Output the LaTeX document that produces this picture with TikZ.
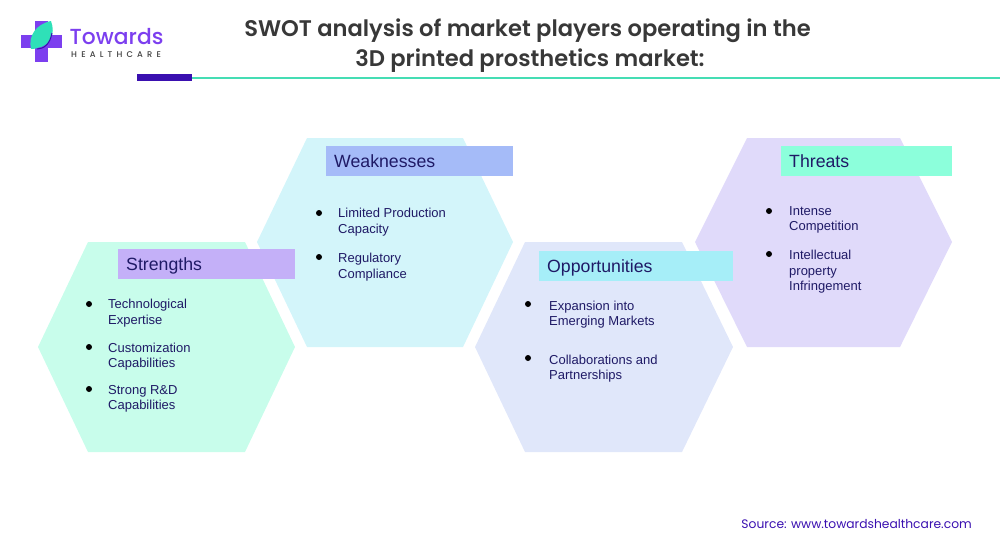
\documentclass[tikz,border=0pt]{standalone}
\usepackage{fontspec}
\usepackage{xcolor}
\setmainfont{Liberation Sans}
\newfontfamily\titlefont{Poppins}
\newfontfamily\titlesemi{Poppins SemiBold}
\newfontfamily\logofont{Poppins Medium}
\definecolor{brandpurple}{HTML}{7C3FEF}
\definecolor{brandteal}{HTML}{2FE0B8}
\definecolor{barnavy}{HTML}{3A10B0}
\definecolor{rulegreen}{HTML}{45DDB4}
\definecolor{inktext}{HTML}{1F1A66}
\definecolor{hexS}{HTML}{C8FDEB}
\definecolor{hexW}{HTML}{D3F5FA}
\definecolor{hexO}{HTML}{E0E7FA}
\definecolor{hexT}{HTML}{E0DAFA}
\definecolor{headS}{HTML}{C4B0F8}
\definecolor{headW}{HTML}{A5BBF8}
\definecolor{headO}{HTML}{A6EEF8}
\definecolor{headT}{HTML}{8CFFDB}
\tikzset{
  headbox/.style={anchor=north west, inner sep=0pt, text=inktext, font=\fontsize{17.7}{18}\selectfont, align=left},
  itemtext/.style={anchor=north west, inner sep=0pt, text=inktext, font=\fontsize{13}{15.6}\selectfont, align=left},
  bulletdot/.style={circle, fill=black, inner sep=0pt, minimum size=6pt},
}
\begin{document}
\begin{tikzpicture}[x=1pt,y=-1pt]
  \useasboundingbox (0,0) rectangle (1000,542);
  % hexagons
  \fill[hexS] (38,347) -- (88,242) -- (245,242) -- (295,347) -- (245,452) -- (88,452) -- cycle;
  \fill[hexW] (257,242) -- (307,138) -- (463,138) -- (513,242) -- (463,347) -- (307,347) -- cycle;
  \fill[hexO] (475,347) -- (525,242) -- (682,242) -- (733,347) -- (682,452) -- (525,452) -- cycle;
  \fill[hexT] (695,242) -- (747,138) -- (900,138) -- (952,242) -- (900,347) -- (747,347) -- cycle;
  % heading bars
  \fill[headS] (118,249) rectangle (295,279);
  \fill[headW] (326,146) rectangle (513,176);
  \fill[headO] (539,251) rectangle (733,281);
  \fill[headT] (781,146) rectangle (952,176);
  \node[headbox] (strengths) at (126,257) {Strengths};
  \node[headbox] (weaknesses) at (334,154) {Weaknesses};
  \node[headbox] (opportunities) at (547,259) {Opportunities};
  \node[headbox] (threats) at (789,154) {Threats};
  % items
  \node[bulletdot] (s1) at (89,304) {};
  \node[itemtext] (s1t) at (108,299) {Technological\\Expertise};
  \node[bulletdot] (s2) at (89,347) {};
  \node[itemtext] (s2t) at (108,342.5) {Customization\\Capabilities};
  \node[bulletdot] (s3) at (89,389) {};
  \node[itemtext] (s3t) at (108,385) {Strong R\&D\\Capabilities};
  \node[bulletdot] (w1) at (319,213) {};
  \node[itemtext] (w1t) at (338,208) {Limited Production\\Capacity};
  \node[bulletdot] (w2) at (319,257) {};
  \node[itemtext] (w2t) at (338,253) {Regulatory\\Compliance};
  \node[bulletdot] (o1) at (528,304) {};
  \node[itemtext] (o1t) at (549,300.5) {Expansion into\\Emerging Markets};
  \node[bulletdot] (o2) at (528,358) {};
  \node[itemtext] (o2t) at (549,354.5) {Collaborations and\\Partnerships};
  \node[bulletdot] (t1) at (769,211) {};
  \node[itemtext] (t1t) at (789,206) {Intense\\Competition};
  \node[bulletdot] (t2) at (769,254) {};
  \node[itemtext] (t2t) at (789,250) {Intellectual\\property\\Infringement};
  % title and rule
  \node[anchor=north, inner sep=0pt, align=center, text=black!78, font=\titlesemi\fontsize{22.6}{30}\selectfont] (title) at (527.5,18.5) {SWOT analysis of market players operating in the\\\hspace*{5pt}3D printed prosthetics market:};
  \fill[rulegreen] (192,76.5) rectangle (1000,79);
  \fill[barnavy] (137,74) rectangle (192,81);
  % logo
  \fill[brandpurple] (35,21) rectangle (48,62);
  \fill[brandpurple] (21,34.5) rectangle (62,48);
  \fill[brandteal] (31,49) .. controls (28,36) and (36,24) .. (51,21) .. controls (56,34) and (50,46) .. (37,48) .. controls (35,49) and (33,49) .. (31,49) -- cycle;
  \draw[barnavy, line width=1pt] (37,49) .. controls (44,49) and (50,44) .. (52,33);
  \node[anchor=west, inner sep=0pt, text=brandpurple, font=\logofont\fontsize{21.8}{22}\selectfont] (towards) at (69.5,37) {Towards};
  \node[anchor=west, inner sep=0pt, text=black!75, font=\logofont\fontsize{8.3}{8.5}\selectfont] (healthcare) at (71,55) {H\hspace{4.2pt}E\hspace{4.2pt}A\hspace{4.2pt}L\hspace{4.2pt}T\hspace{4.2pt}H\hspace{4.2pt}C\hspace{4.2pt}A\hspace{4.2pt}R\hspace{4.2pt}E};
  % source
  \node[anchor=east, inner sep=0pt, text=barnavy, font=\titlefont\fontsize{12.3}{14}\selectfont] (source) at (972,523.5) {Source: www.towardshealthcare.com};
\end{tikzpicture}
\end{document}
